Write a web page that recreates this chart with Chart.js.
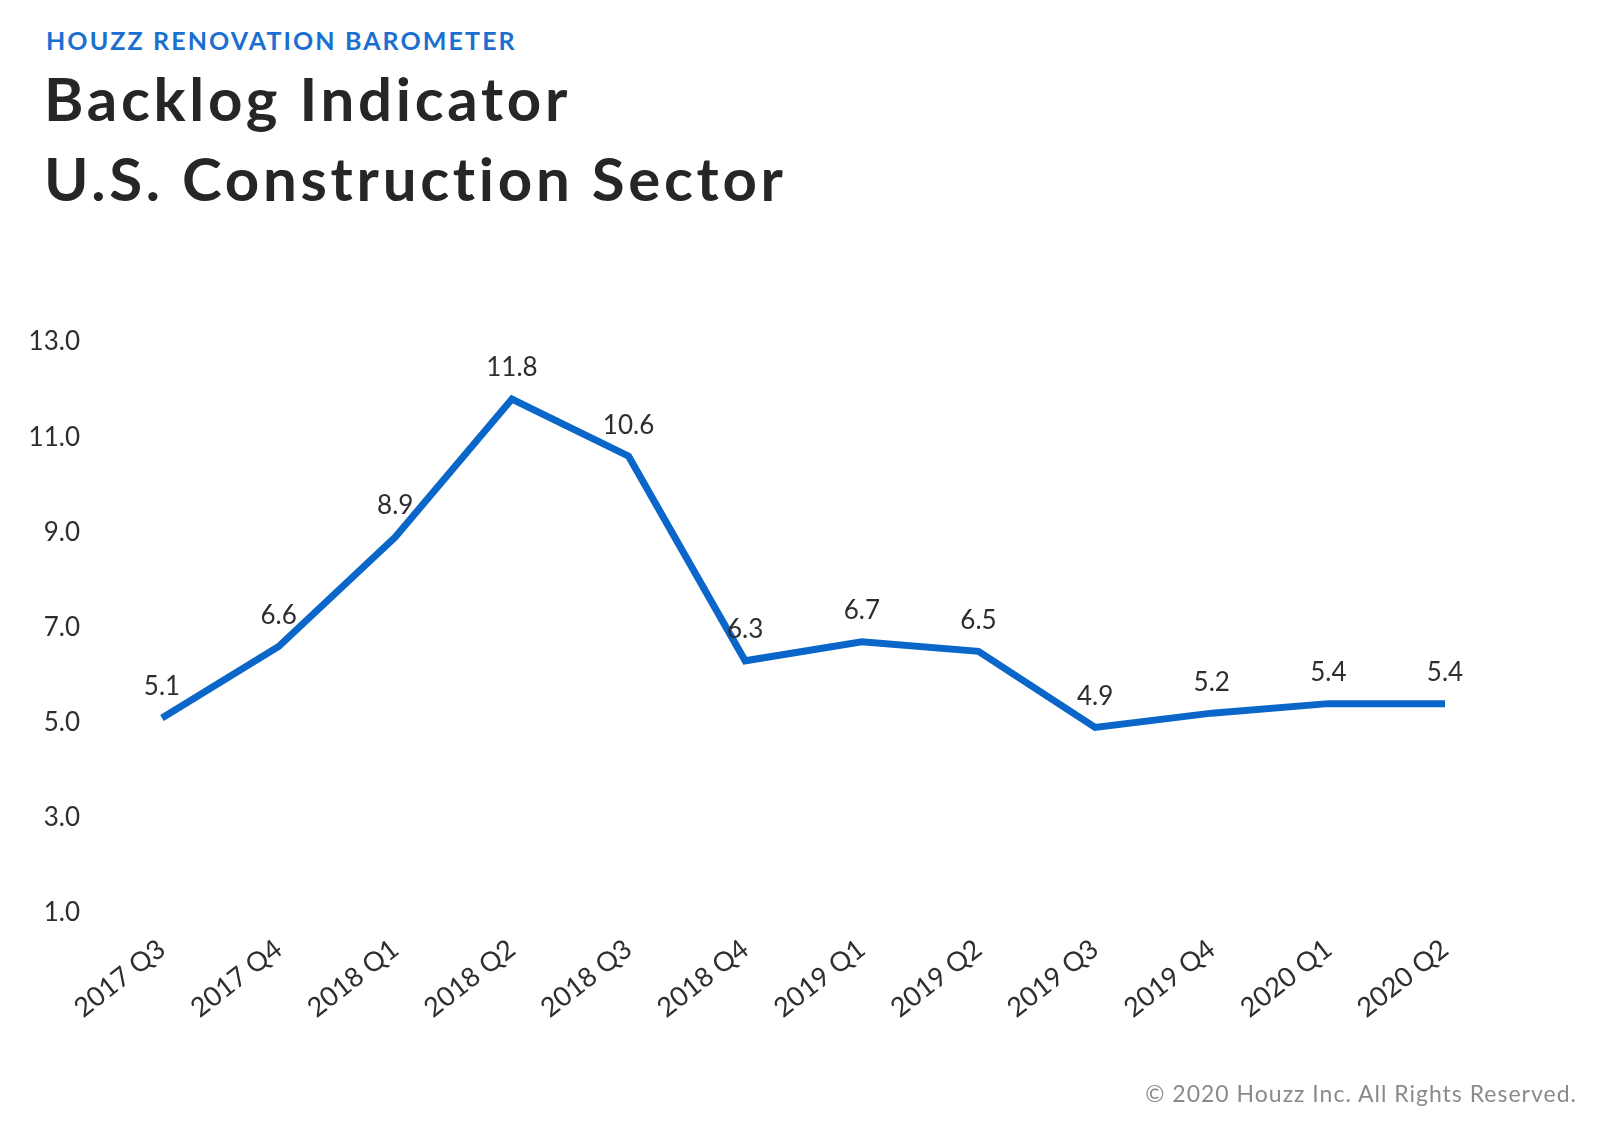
<!DOCTYPE html>
<html>
<head>
<meta charset="utf-8">
<script src="https://cdn.jsdelivr.net/npm/chart.js@4.4.0/dist/chart.umd.min.js"></script>
<style>
  html, body { margin: 0; padding: 0; background: #ffffff; }
  body { width: 1607px; height: 1138px; position: relative; overflow: hidden; font-family: Lato, "Open Sans", sans-serif; font-variant-ligatures: none; }
  .t { position: absolute; white-space: nowrap; line-height: 1; }
  #kicker { left: 46px; top: 28px; font-size: 25px; font-weight: 700; color: #1b6fd1; letter-spacing: 2.1px; }
  #title1 { left: 44px; top: 68px; font-size: 60px; font-weight: 700; color: #262626; letter-spacing: 3.7px; }
  #title2 { left: 44px; top: 148px; font-size: 60px; font-weight: 700; color: #262626; letter-spacing: 3.7px; }
  #copy { right: 30px; top: 1082px; font-size: 23px; color: #8a8a8a; letter-spacing: 1px; }
  #wrap { position: absolute; left: 0; top: 0; width: 1607px; height: 1138px; }
</style>
</head>
<body>
<div class="t" id="kicker">HOUZZ RENOVATION BAROMETER</div>
<div class="t" id="title1">Backlog Indicator</div>
<div class="t" id="title2">U.S. Construction Sector</div>
<div id="wrap"><canvas id="c" width="1607" height="1138"></canvas></div>
<div class="t" id="copy">© 2020 Houzz Inc. All Rights Reserved.</div>
<script>
const categories = ["2017 Q3", "2017 Q4", "2018 Q1", "2018 Q2", "2018 Q3", "2018 Q4",
                    "2019 Q1", "2019 Q2", "2019 Q3", "2019 Q4", "2020 Q1", "2020 Q2"];
const backlogWeeks = [5.1, 6.6, 8.9, 11.8, 10.6, 6.3, 6.7, 6.5, 4.9, 5.2, 5.4, 5.4];
const yTickValues = [1.0, 3.0, 5.0, 7.0, 9.0, 11.0, 13.0];

const FONT = "Lato, 'Open Sans', sans-serif";

const valueLabels = {
  id: 'valueLabels',
  afterDatasetsDraw(chart) {
    const ctx = chart.ctx;
    const meta = chart.getDatasetMeta(0);
    ctx.save();
    ctx.font = "26px " + FONT;
    ctx.fillStyle = "#2e2e2e";
    ctx.textAlign = "center";
    ctx.textBaseline = "middle";
    meta.data.forEach((pt, i) => {
      ctx.fillText(backlogWeeks[i].toFixed(1), pt.x, pt.y - 31);
    });
    ctx.restore();
  }
};

new Chart(document.getElementById('c'), {
  type: 'line',
  data: {
    labels: categories,
    datasets: [{
      data: backlogWeeks,
      borderColor: '#0a66c9',
      borderWidth: 7,
      pointRadius: 0,
      pointHoverRadius: 0,
      tension: 0,
      fill: false,
      clip: false,
      borderCapStyle: 'butt',
      borderJoinStyle: 'miter'
    }]
  },
  options: {
    responsive: false,
    animation: false,
    events: [],
    layout: { padding: { top: 342, right: 162, bottom: 0, left: 0 } },
    plugins: { legend: { display: false }, tooltip: { enabled: false }, title: { display: false } },
    scales: {
      x: {
        offset: false,
        grid: { display: false, drawTicks: false },
        border: { display: false },
        ticks: {
          minRotation: 38, maxRotation: 38, autoSkip: false,
          padding: 20,
          color: '#2e2e2e',
          font: { family: FONT, size: 27 }
        },
        afterFit(scale) { scale.height = 225; }
      },
      y: {
        min: 1, max: 13,
        afterBuildTicks(scale) { scale.ticks = yTickValues.map(v => ({ value: v })); },
        grid: { display: false, drawTicks: false },
        border: { display: false },
        ticks: {
          padding: 82,
          color: '#2e2e2e',
          font: { family: FONT, size: 26 },
          callback: v => Number(v).toFixed(1)
        },
        afterFit(scale) { scale.width = 162; }
      }
    }
  },
  plugins: [valueLabels]
});
</script>
</body>
</html>
